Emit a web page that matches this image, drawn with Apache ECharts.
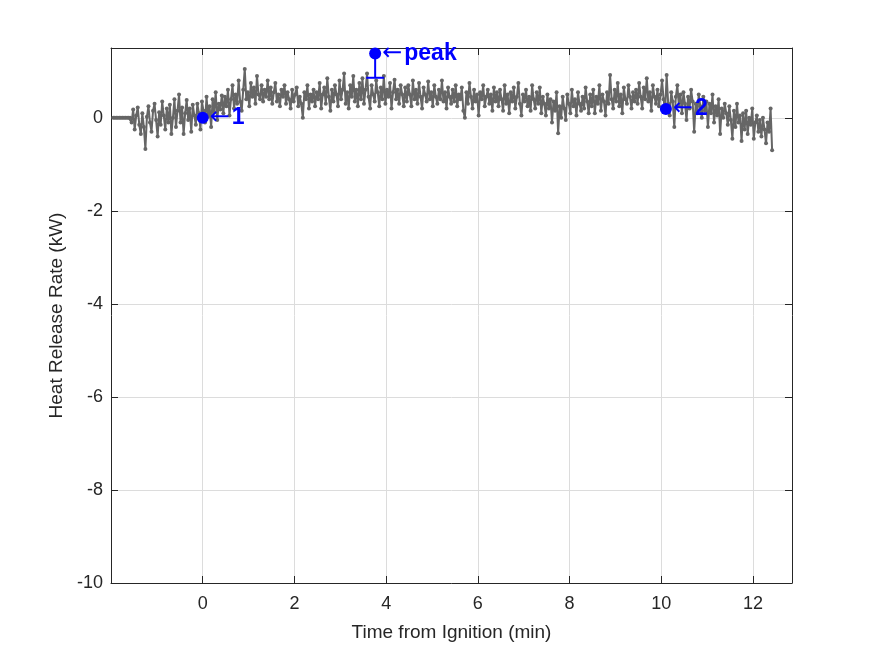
<!DOCTYPE html>
<html lang="en">
<head>
  <meta charset="UTF-8">
  <title>Heat Release Rate</title>
  <script src="https://cdn.jsdelivr.net/npm/echarts@6/dist/echarts.min.js"></script>
</head>
<body style="margin:0;background:#fff;">
<div id="main" style="width: 875px;height:656px;"></div>
<script type="text/javascript">

// sampling of the heat release record (minutes), one sample every 2 s
const tStart = -1.95;
const tStep = 1 / 30;
// heat release rate, kW, one value per sample (rows of one minute)
const hrr = [
  0, 0, 0, 0, 0, 0, 0, 0, 0, 0, 0, 0,
  -0.1, 0.18, -0.25, 0.05, 0.22, -0.15, -0.35, 0.1, -0.2, -0.67, 0.02, 0.25, -0.1, -0.3, 0.15,
  0.3, -0.05, -0.4, 0.12, -0.15, 0.35, 0.05, -0.25, 0.2, -0.1, 0.28, -0.35, 0.0, 0.4, -0.2,
  0.15, 0.5, -0.1, 0.22, -0.35, 0.1, 0.38, -0.05, 0.2, -0.3, 0.28, 0.05, -0.15, 0.3, 0.1,
  -0.25, 0.35, 0.15, -0.1, 0.45, 0.02, 0.25, -0.2, 0.4, 0.12, 0.55, -0.05, 0.3, 0.18, 0.48,
  0.1, 0.45, 0.25, 0.6, 0.05, 0.4, 0.7, 0.2, 0.5, 0.3, 0.8, 0.35, 0.15, 0.6, 1.05,
  0.4, 0.55, 0.25, 0.75, 0.45, 0.65, 0.3, 0.9, 0.5, 0.4, 0.7, 0.35, 0.6, 0.45, 0.8,
  0.4, 0.65, 0.3, 0.55, 0.75, 0.35, 0.5, 0.25, 0.6, 0.45, 0.7, 0.3, 0.55, 0.4, 0.2,
  0.6, 0.35, 0.5, 0.65, 0.25, 0.45, 0.3, 0.0, 0.55, 0.4, 0.7, 0.2, 0.5, 0.35, 0.6,
  0.25, 0.55, 0.4, 0.75, 0.2, 0.5, 0.65, 0.3, 0.85, 0.45, 0.15, 0.6, 0.35, 0.7, 0.5,
  0.25, 0.8, 0.4, 0.6, 0.95, 0.3, 0.55, 0.2, 0.7, 0.45, 0.9, 0.35, 0.6, 0.25, 0.75,
  0.4, 0.85, 0.3, 0.6, 0.95, 0.45, 0.2, 0.7, 0.5, 0.35, 0.8, 0.55, 0.25, 0.65, 0.4,
  0.9, 0.3, 0.6, 0.45, 0.75, 0.2, 0.55, 0.82, 0.4, 0.6, 0.3, 0.7, 0.5, 0.25, 0.65,
  0.35, 0.7, 0.5, 0.25, 0.8, 0.4, 0.6, 0.3, 0.75, 0.45, 0.2, 0.65, 0.5, 0.35, 0.78,
  0.4, 0.55, 0.25, 0.7, 0.45, 0.3, 0.6, 0.4, 0.8, 0.35, 0.55, 0.2, 0.65, 0.45, 0.3,
  0.6, 0.35, 0.7, 0.25, 0.5, 0.4, 0.65, 0.15, 0.0, 0.55, 0.3, 0.75, 0.45, 0.2, 0.6,
  0.35, 0.5, 0.05, 0.55, 0.4, 0.7, 0.25, 0.45, 0.6, 0.3, 0.5, 0.15, 0.65, 0.35, 0.55,
  0.25, 0.6, 0.4, 0.15, 0.7, 0.3, 0.5, 0.1, 0.55, 0.35, 0.65, 0.2, 0.45, 0.75, 0.3,
  0.05, 0.5, 0.35, 0.6, 0.25, 0.45, 0.15, 0.7, 0.4, 0.2, 0.55, 0.3, 0.65, 0.1, 0.45,
  0.3, 0.05, 0.5, 0.2, 0.4, -0.1, 0.35, 0.15, 0.55, -0.33, 0.25, 0.0, 0.45, 0.2, -0.05,
  0.5, 0.3, 0.1, 0.6, 0.25, 0.4, 0.05, 0.55, 0.3, 0.15, 0.45, 0.2, 0.65, 0.35, 0.1,
  0.5, 0.25, 0.6, 0.1, 0.45, 0.3, 0.7, 0.15, 0.5, 0.35, 0.05, 0.55, 0.3, 0.92, 0.4,
  0.2, 0.6, 0.35, 0.75, 0.25, 0.5, 0.1, 0.65, 0.4, 0.3, 0.7, 0.45, 0.2, 0.55, 0.35,
  0.6, 0.3, 0.75, 0.45, 0.2, 0.65, 0.4, 0.85, 0.35, 0.55, 0.15, 0.7, 0.45, 0.3, 0.6,
  0.25, 0.5, 0.8, 0.4, 0.15, 0.92, 0.3, 0.05, 0.55, 0.35, -0.2, 0.45, 0.7, 0.25, 0.5,
  0.1, 0.55, 0.3, -0.05, 0.45, 0.2, 0.6, 0.35, -0.3, 0.3, 0.1, 0.5, 0.25, 0.0, 0.45,
  0.15, 0.35, -0.2, 0.3, 0.1, 0.5, -0.1, 0.25, 0.05, 0.4, -0.35, 0.2, 0.0, 0.3, 0.1,
  -0.15, 0.25, -0.05, -0.45, 0.15, -0.2, 0.3, -0.1, 0.05, -0.5, 0.1, -0.25, 0.15, -0.35, 0.0,
  -0.15, 0.2, -0.45, -0.1, 0.05, -0.3, -0.05, -0.4, 0.0, -0.25, -0.55, -0.1, -0.3, 0.2, -0.7
];

// annotated points
const markX = [0, 3.76, 10.1];
const markY = [0, 1.38, 0.19];
const markNames = ['1', 'peak', '2'];

// error bar on the peak: [x, top, bottom]
const peakBar = [[3.76, 1.38, 0.86]];

const xTicks = [0, 2, 4, 6, 8, 10, 12];
const yTicks = [-10, -8, -6, -4, -2, 0];

const lineData = hrr.map((v, i) => [tStart + i * tStep, v]);
const markData = markX.map((x, i) => ({value: [x, markY[i]], name: markNames[i]}));

const myChart = echarts.init(document.getElementById('main'));

const font = 'Liberation Sans, Arial, sans-serif';
const axisCommon = {
  axisLine: {show: true, onZero: false, lineStyle: {color: '#262626', width: 1}},
  axisTick: {show: true, inside: true, length: 7, lineStyle: {color: '#262626'}},
  splitLine: {show: false}
};

const option = {
  backgroundColor: '#ffffff',
  animation: false,
  grid: {left: 111, right: 83, top: 48, bottom: 73, containLabel: false},
  xAxis: [
    Object.assign({}, axisCommon, {
      type: 'value', min: -2, max: 12.85, interval: 2, position: 'bottom',
      name: 'Time from Ignition (min)', nameLocation: 'middle', nameGap: 40,
      nameTextStyle: {fontFamily: font, fontSize: 19, color: '#262626'},
      axisLabel: {
        fontFamily: font, fontSize: 18, color: '#262626', margin: 12,
        formatter: v => (xTicks.indexOf(v) >= 0 ? String(v) : '')
      },
      splitLine: {show: true, lineStyle: {color: '#dcdcdc', width: 1}}
    }),
    Object.assign({}, axisCommon, {
      type: 'value', min: -2, max: 12.85, interval: 2, position: 'top',
      axisLabel: {show: false}
    })
  ],
  yAxis: [
    Object.assign({}, axisCommon, {
      type: 'value', min: -10, max: 1.5, interval: 2, position: 'left',
      name: 'Heat Release Rate (kW)', nameLocation: 'middle', nameGap: 43,
      nameTextStyle: {fontFamily: font, fontSize: 19, color: '#262626'},
      axisLabel: {
        fontFamily: font, fontSize: 18, color: '#262626', margin: 8,
        formatter: v => (yTicks.indexOf(v) >= 0 ? String(v) : '')
      },
      splitLine: {show: true, lineStyle: {color: '#dcdcdc', width: 1}}
    }),
    Object.assign({}, axisCommon, {
      type: 'value', min: -10, max: 1.5, interval: 2, position: 'right',
      axisLabel: {show: false}
    })
  ],
  series: [
    {
      type: 'line',
      data: lineData,
      symbol: 'circle',
      symbolSize: 4,
      showAllSymbol: true,
      lineStyle: {color: '#666666', width: 2},
      itemStyle: {color: '#666666'},
      z: 2
    },
    {
      type: 'custom',
      data: peakBar,
      renderItem: function (params, api) {
        const top = api.coord([api.value(0), api.value(1)]);
        const bot = api.coord([api.value(0), api.value(2)]);
        const style = {stroke: '#0000ff', lineWidth: 2};
        return {
          type: 'group',
          children: [
            {type: 'line', shape: {x1: top[0], y1: top[1], x2: bot[0], y2: bot[1]}, style: style},
            {type: 'line', shape: {x1: bot[0] - 9, y1: bot[1], x2: bot[0] + 9, y2: bot[1]}, style: style}
          ]
        };
      },
      z: 3
    },
    {
      type: 'scatter',
      data: markData,
      symbol: 'circle',
      symbolSize: 12,
      itemStyle: {color: '#0000ff', opacity: 1},
      z: 4,
      label: {
        show: true,
        position: 'right',
        distance: 1,
        formatter: p => '{a|←}{b|' + p.name + '}',
        rich: {
          a: {fontFamily: 'DejaVu Sans', fontSize: 24, color: '#0000ff', fontWeight: 'normal', padding: [0, 2, 0, 0]},
          b: {fontFamily: font, fontSize: 23, color: '#0000ff', fontWeight: 'bold'}
        }
      }
    }
  ]
};
myChart.setOption(option);
</script>
</body>
</html>
